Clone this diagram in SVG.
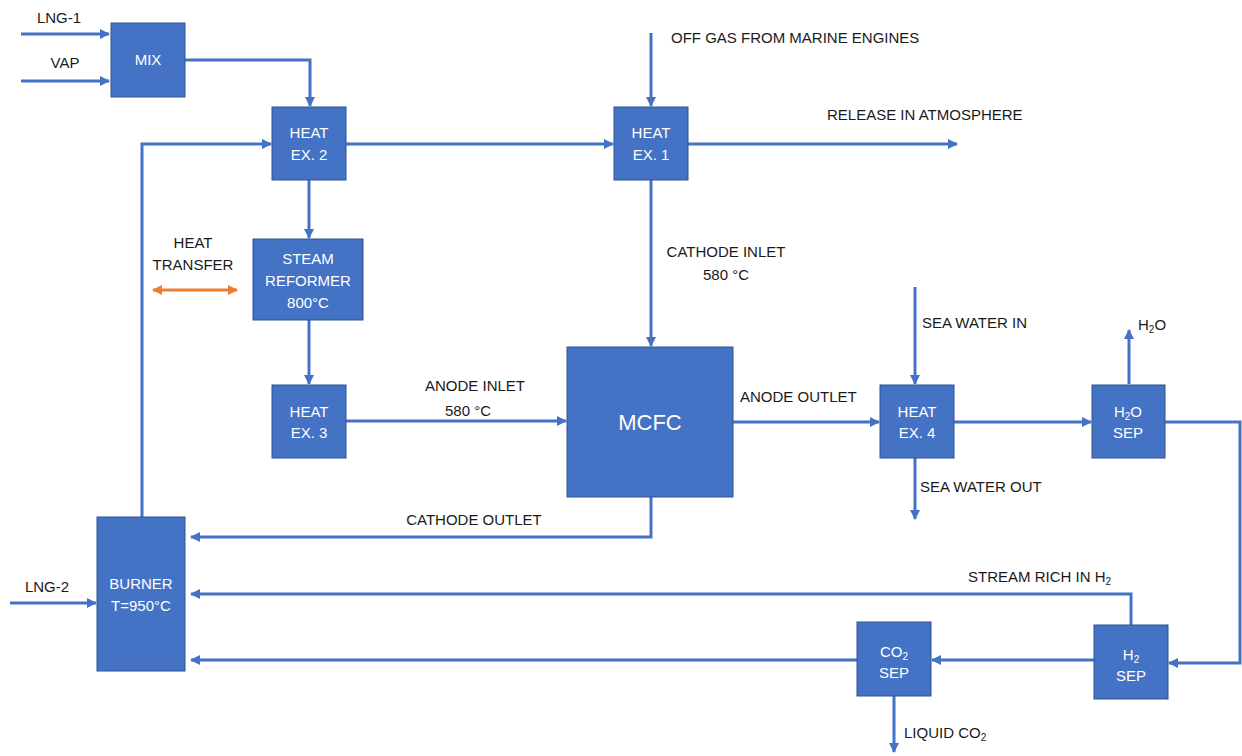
<svg xmlns="http://www.w3.org/2000/svg" width="1242" height="756" viewBox="0 0 1242 756">
<defs>
<marker id="ah" viewBox="0 0 10 10" refX="9" refY="5" markerWidth="10" markerHeight="10" markerUnits="userSpaceOnUse" orient="auto"><path d="M0,0 L10,5 L0,10 z" fill="#4472C4"/></marker>
<marker id="ao" viewBox="0 0 10 10" refX="9" refY="5" markerWidth="10" markerHeight="10" markerUnits="userSpaceOnUse" orient="auto-start-reverse"><path d="M0,0 L10,5 L0,10 z" fill="#ED7D31"/></marker>
</defs>
<style>
.box{fill:#4472C4;stroke:#2F528F;stroke-width:1}
.bt{font-family:"Liberation Sans",Arial,sans-serif;font-size:15px;fill:#fff;text-anchor:middle}
.lb{font-family:"Liberation Sans",Arial,sans-serif;font-size:15px;fill:#1a1a1a}
.c{fill:none;stroke:#4472C4;stroke-width:3;marker-end:url(#ah)}
.n{fill:none;stroke:#4472C4;stroke-width:3}
</style>
<rect width="1242" height="756" fill="#fff"/>
<g id="connectors">
<path class="c" d="M21,34 H109"/>
<path class="c" d="M21,81 H109"/>
<path class="c" d="M185,60 H310 V106"/>
<path class="c" d="M142,517 V144 H271"/>
<path class="c" d="M346,144 H613"/>
<path class="c" d="M651,33 V106"/>
<path class="c" d="M688,144 H957"/>
<path class="c" d="M651,180 V346"/>
<path class="c" d="M309,180 V238"/>
<path class="c" d="M309,320 V384"/>
<path class="c" d="M346,421 H566"/>
<path class="c" d="M733,422 H879"/>
<path class="c" d="M915,287 V384"/>
<path class="c" d="M915,458 V519"/>
<path class="c" d="M954,422 H1091"/>
<path class="c" d="M1129,384 V330"/>
<path class="c" d="M1165,422 H1240 V663 H1169"/>
<path class="c" d="M1094,660 H932"/>
<path class="c" d="M857,660 H191"/>
<path class="c" d="M1131,625 V594 H191"/>
<path class="c" d="M651,497 V537 H191"/>
<path class="c" d="M10,603 H96"/>
<path class="c" d="M894,696 V752"/>
<path d="M153,290 H237" fill="none" stroke="#ED7D31" stroke-width="3" marker-start="url(#ao)" marker-end="url(#ao)"/>
</g>
<g id="mix"><rect class="box" x="111" y="23" width="74" height="74"/><text class="bt" x="148" y="65">MIX</text></g>
<g id="hx2"><rect class="box" x="272" y="107" width="74" height="73"/><text class="bt" x="309" y="138">HEAT</text><text class="bt" x="309" y="160">EX. 2</text></g>
<g id="hx1"><rect class="box" x="614" y="107" width="74" height="73"/><text class="bt" x="651" y="138">HEAT</text><text class="bt" x="651" y="160">EX. 1</text></g>
<g id="reformer"><rect class="box" x="253" y="239" width="110" height="81"/><text class="bt" x="308" y="264">STEAM</text><text class="bt" x="308" y="286">REFORMER</text><text class="bt" x="308" y="308">800°C</text></g>
<g id="hx3"><rect class="box" x="272" y="385" width="74" height="73"/><text class="bt" x="309" y="417">HEAT</text><text class="bt" x="309" y="438">EX. 3</text></g>
<g id="mcfc"><rect class="box" x="567" y="347" width="166" height="150"/><text class="bt" x="650" y="430" style="font-size:22px">MCFC</text></g>
<g id="hx4"><rect class="box" x="880" y="385" width="74" height="73"/><text class="bt" x="917" y="417">HEAT</text><text class="bt" x="917" y="438">EX. 4</text></g>
<g id="h2osep"><rect class="box" x="1092" y="385" width="73" height="73"/><text class="bt" x="1128" y="417">H<tspan font-size="10" dy="3">2</tspan><tspan dy="-3">O</tspan></text><text class="bt" x="1128" y="438">SEP</text></g>
<g id="burner"><rect class="box" x="97" y="517" width="88" height="154"/><text class="bt" x="141" y="589">BURNER</text><text class="bt" x="141" y="611">T=950°C</text></g>
<g id="co2sep"><rect class="box" x="857" y="622" width="74" height="74"/><text class="bt" x="894" y="657">CO<tspan font-size="10" dy="3">2</tspan></text><text class="bt" x="894" y="678">SEP</text></g>
<g id="h2sep"><rect class="box" x="1094" y="625" width="74" height="74"/><text class="bt" x="1131" y="660">H<tspan font-size="10" dy="3">2</tspan></text><text class="bt" x="1131" y="681">SEP</text></g>
<g id="labels">
<text class="lb" x="59" y="23" text-anchor="middle">LNG-1</text>
<text class="lb" x="65" y="68" text-anchor="middle">VAP</text>
<text class="lb" x="671" y="43">OFF GAS FROM MARINE ENGINES</text>
<text class="lb" x="827" y="120">RELEASE IN ATMOSPHERE</text>
<text class="lb" x="193" y="248" text-anchor="middle">HEAT</text>
<text class="lb" x="193" y="270" text-anchor="middle">TRANSFER</text>
<text class="lb" x="726" y="257" text-anchor="middle">CATHODE INLET</text>
<text class="lb" x="726" y="280" text-anchor="middle">580 °C</text>
<text class="lb" x="475" y="391" text-anchor="middle">ANODE INLET</text>
<text class="lb" x="468" y="416" text-anchor="middle">580 °C</text>
<text class="lb" x="740" y="402">ANODE OUTLET</text>
<text class="lb" x="922" y="328">SEA WATER IN</text>
<text class="lb" x="1138" y="330">H<tspan font-size="10" dy="3">2</tspan><tspan dy="-3">O</tspan></text>
<text class="lb" x="920" y="492">SEA WATER OUT</text>
<text class="lb" x="474" y="525" text-anchor="middle">CATHODE OUTLET</text>
<text class="lb" x="47" y="592" text-anchor="middle">LNG-2</text>
<text class="lb" x="968" y="582">STREAM RICH IN H<tspan font-size="10" dy="3">2</tspan></text>
<text class="lb" x="904" y="738">LIQUID CO<tspan font-size="10" dy="3">2</tspan></text>
</g>
</svg>
